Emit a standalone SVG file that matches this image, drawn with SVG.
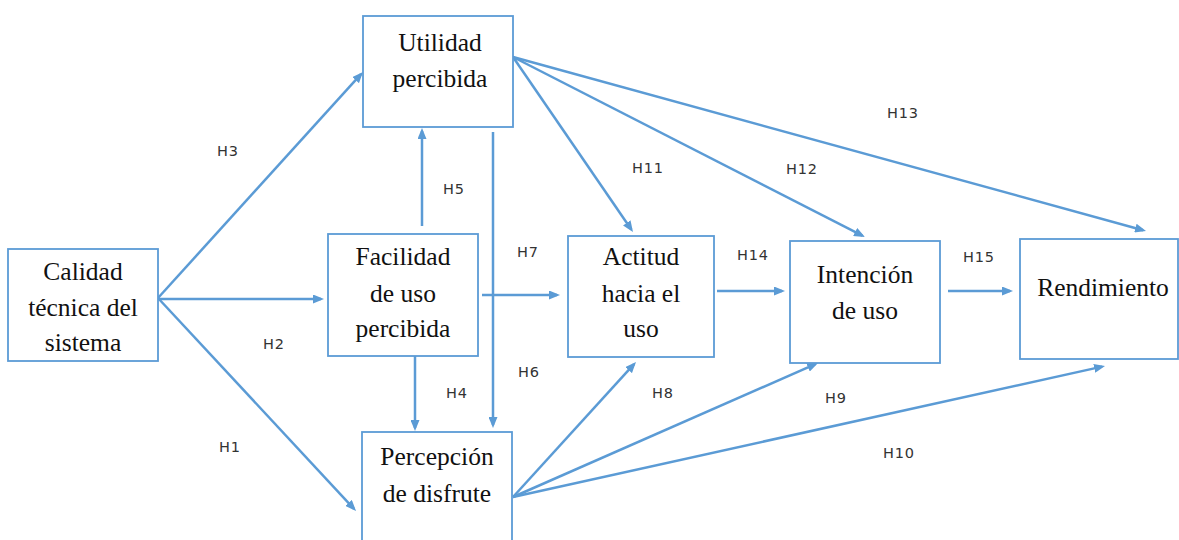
<svg xmlns="http://www.w3.org/2000/svg" width="1179" height="540" viewBox="0 0 1179 540">
<style>
.box{fill:#fff;stroke:#5b9bd5;stroke-width:1.8}
.nt{font-family:"Liberation Serif","Times New Roman",serif;font-size:25.5px;fill:#111;text-anchor:middle}
.lb{font-family:"DejaVu Sans",Verdana,sans-serif;font-size:14.5px;fill:#333;letter-spacing:0.8px}
.cn{stroke:#5b9bd5;stroke-width:2.5;fill:none;marker-end:url(#ah)}
</style>
<defs>
<marker id="ah" markerUnits="userSpaceOnUse" markerWidth="11" markerHeight="9" refX="8" refY="4.5" orient="auto">
<path d="M0,0 L11,4.5 L0,9 z" fill="#5b9bd5"/>
</marker>
</defs>
<rect width="1179" height="540" fill="#fff"/>
<g id="connectors">
<line class="cn" x1="158" y1="298" x2="361" y2="74.2"/>
<line class="cn" x1="158" y1="299" x2="321" y2="299"/>
<line class="cn" x1="158" y1="298" x2="354" y2="508.8"/>
<line class="cn" x1="422" y1="226" x2="422" y2="131"/>
<line class="cn" x1="415" y1="356" x2="415" y2="428"/>
<line class="cn" x1="493" y1="132" x2="493" y2="425"/>
<line class="cn" x1="482" y1="295" x2="557" y2="295"/>
<line class="cn" x1="717" y1="291" x2="782" y2="291"/>
<line class="cn" x1="948" y1="291" x2="1010" y2="291"/>
<line class="cn" x1="513" y1="57" x2="631.3" y2="229.5"/>
<line class="cn" x1="513" y1="57" x2="862.3" y2="235.6"/>
<line class="cn" x1="513" y1="57" x2="1143.1" y2="230.2"/>
<line class="cn" x1="513" y1="497" x2="634" y2="364.2"/>
<line class="cn" x1="513" y1="497" x2="815.3" y2="364.2"/>
<line class="cn" x1="513" y1="497" x2="1102.1" y2="366.6"/>
</g>
<g id="labels">
<text class="lb" x="217" y="156">H3</text>
<text class="lb" x="443" y="194">H5</text>
<text class="lb" x="887" y="118">H13</text>
<text class="lb" x="632" y="173">H11</text>
<text class="lb" x="786" y="174">H12</text>
<text class="lb" x="263" y="349">H2</text>
<text class="lb" x="446" y="398">H4</text>
<text class="lb" x="219" y="452">H1</text>
<text class="lb" x="518" y="377">H6</text>
<text class="lb" x="652" y="398">H8</text>
<text class="lb" x="825" y="403">H9</text>
<text class="lb" x="883" y="458">H10</text>
<text class="lb" x="517" y="257">H7</text>
<text class="lb" x="737" y="260">H14</text>
<text class="lb" x="963" y="262">H15</text>
</g>
<g id="calidad">
<rect class="box" x="8" y="249" width="150" height="112"/>
<text class="nt" x="83" y="280">Calidad</text>
<text class="nt" x="83" y="316">técnica del</text>
<text class="nt" x="83" y="351">sistema</text>
</g>
<g id="utilidad">
<rect class="box" x="363" y="16" width="150" height="111"/>
<text class="nt" x="440" y="51">Utilidad</text>
<text class="nt" x="440" y="87">percibida</text>
</g>
<g id="facilidad">
<rect class="box" x="328" y="234" width="150" height="122"/>
<text class="nt" x="403" y="265">Facilidad</text>
<text class="nt" x="403" y="302">de uso</text>
<text class="nt" x="403" y="337">percibida</text>
</g>
<g id="percepcion">
<rect class="box" x="362" y="432" width="150" height="120"/>
<text class="nt" x="437" y="465">Percepción</text>
<text class="nt" x="437" y="502">de disfrute</text>
</g>
<g id="actitud">
<rect class="box" x="568" y="236" width="146" height="121"/>
<text class="nt" x="641" y="265">Actitud</text>
<text class="nt" x="641" y="302">hacia el</text>
<text class="nt" x="641" y="337">uso</text>
</g>
<g id="intencion">
<rect class="box" x="790" y="241" width="150" height="122"/>
<text class="nt" x="865" y="283">Intención</text>
<text class="nt" x="865" y="319">de uso</text>
</g>
<g id="rendimiento">
<rect class="box" x="1020" y="239" width="158" height="120"/>
<text class="nt" x="1103" y="296">Rendimiento</text>
</g>
</svg>
